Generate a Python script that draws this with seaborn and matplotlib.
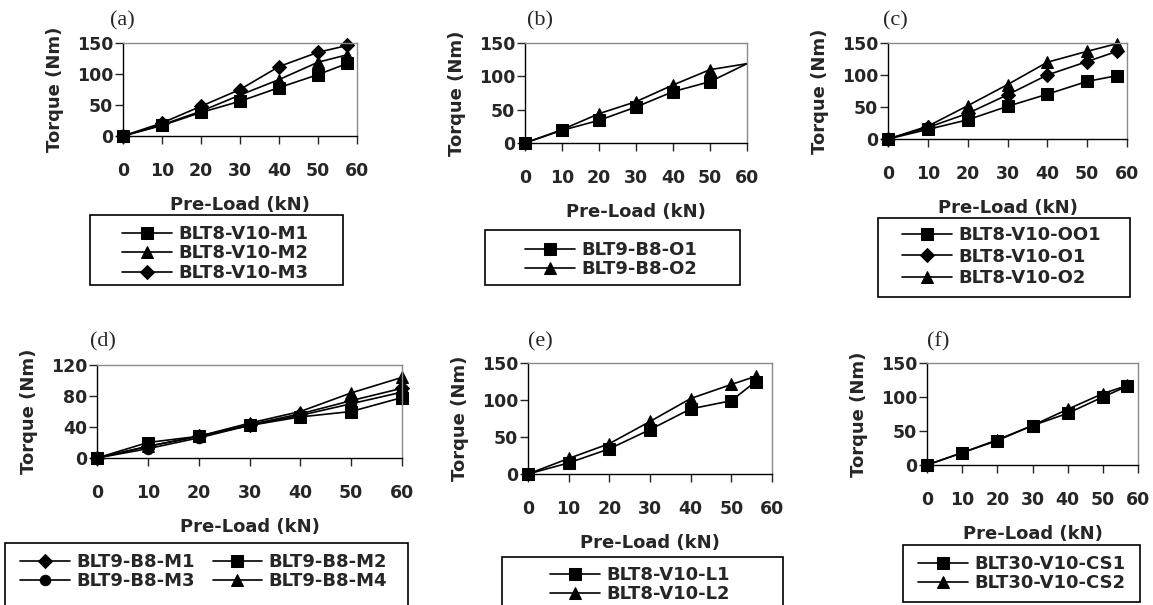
import matplotlib
matplotlib.use("Agg")
from matplotlib import pyplot as plt
from matplotlib.patches import Rectangle
import seaborn as sns

# panel (a)
a_load = [0, 10, 20, 30, 40, 50, 57.5]
a_m1 = [0, 17, 38, 56, 78, 99, 117]
a_m2 = [0, 18, 40, 66, 91, 119, 131]
a_m3 = [0, 21, 48, 75, 112, 135, 146]

# panel (b)
b_load = [0, 10, 20, 30, 40, 50, 60]
b_o1 = [0, 19, 34, 54, 77, 92, 119]
b_o2 = [0, 20, 44, 62, 87, 110, 119]

# panel (c)
c_load = [0, 10, 20, 30, 40, 50, 57.5]
c_oo1 = [0, 15, 30, 51, 70, 90, 99]
c_o1 = [0, 18, 40, 69, 100, 121, 137]
c_o2 = [0, 20, 52, 85, 120, 137, 149]

# panel (d)
d_load = [0, 10, 20, 30, 40, 50, 60]
d_m1 = [0, 15, 28, 43, 57, 74, 90]
d_m2 = [0, 20, 28, 42, 53, 60, 78]
d_m3 = [0, 12, 26, 42, 55, 70, 85]
d_m4 = [0, 15, 28, 45, 60, 84, 104]

# panel (e)
e_load = [0, 10, 20, 30, 40, 50, 56]
e_l1 = [0, 15, 34, 60, 88, 99, 125]
e_l2 = [0, 21, 41, 71, 102, 121, 132]

# panel (f)
f_load = [0, 10, 20, 30, 40, 50, 57]
f_cs1 = [0, 18, 36, 58, 76, 100, 116]
f_cs2 = [0, 18, 37, 58, 82, 105, 117]

W, H = 1153, 605

sns.set_style("ticks")
plt.rcParams["font.family"] = ["DejaVu Sans"]
plt.rcParams["font.weight"] = "bold"

fig = plt.figure(figsize=(W / 100, H / 100), dpi=100)
fig.patch.set_facecolor("white")


def px_axes(left, top, right, bottom):
    return fig.add_axes([left / W, 1 - bottom / H, (right - left) / W, (bottom - top) / H])


def draw_panel(ax, load, series, labels, markers, ymax, yticks, msizes, markevery=None):
    for vals, lab, mk, ms in zip(series, labels, markers, msizes):
        kw = {}
        if markevery is not None:
            kw["markevery"] = markevery
        sns.lineplot(x=load, y=vals, ax=ax, color="black", marker=mk, markersize=ms,
                     markeredgecolor="black", markerfacecolor="black", linewidth=1.2,
                     label=lab, clip_on=False, legend=False, **kw)
    ax.set_xlim(0, 60)
    ax.set_ylim(0, ymax)
    ax.set_xticks(range(0, 61, 10))
    ax.set_yticks(yticks)
    for side in ["left", "bottom"]:
        ax.spines[side].set_color("black")
        ax.spines[side].set_linewidth(1.0)
    for side in ["top", "right"]:
        ax.spines[side].set_color("#8a8a8a")
        ax.spines[side].set_linewidth(1.0)
    ax.tick_params(axis="x", direction="out", length=6, width=1, pad=13, labelsize=12.5)
    ax.tick_params(axis="y", direction="out", length=6, width=1, pad=1, labelsize=12.5)
    for t in ax.get_xticklabels() + ax.get_yticklabels():
        t.set_fontweight("bold")
    ax.set_xlabel("Pre-Load (kN)", fontsize=13, fontweight="bold", labelpad=11)
    ax.set_ylabel("Torque (Nm)", fontsize=13, fontweight="bold", labelpad=9)
    ax.grid(False)


def frame_legend(ax, order, handle_x, row_top, box, ncol=1, spacing=0.08, colsp=1.0):
    handles, labels = ax.get_legend_handles_labels()
    handles = [handles[i] for i in order]
    labels = [labels[i] for i in order]
    fig.legend(handles, labels, loc="upper left",
               bbox_to_anchor=(handle_x / W, 1 - row_top / H),
               frameon=False, ncol=ncol, borderpad=0, borderaxespad=0,
               labelspacing=spacing, columnspacing=colsp,
               handlelength=2.75, handletextpad=0.35,
               prop={"size": 13, "weight": "bold"})
    x0, y0, x1, y1 = box
    fig.add_artist(Rectangle((x0 / W, 1 - y1 / H), (x1 - x0) / W, (y1 - y0) / H,
                             transform=fig.transFigure, fill=False,
                             edgecolor="black", linewidth=1.2))


def tag(text, x, y):
    fig.text(x / W, 1 - y / H, text, ha="center", va="center", fontsize=16,
             family=["Liberation Serif", "DejaVu Serif"], fontweight="normal")


# (a)
ax_a = px_axes(123, 43, 357, 136)
draw_panel(ax_a, a_load, [a_m1, a_m2, a_m3], ["BLT8-V10-M1", "BLT8-V10-M2", "BLT8-V10-M3"],
           ["s", "^", "D"], 150, [0, 50, 100, 150], [8.5, 8.5, 7])
frame_legend(ax_a, [0, 1, 2], 122, 225, (90, 215, 343, 285))
tag("(a)", 122, 21)

# (b)
ax_b = px_axes(525, 43, 747, 143)
draw_panel(ax_b, b_load, [b_o1, b_o2], ["BLT9-B8-O1", "BLT9-B8-O2"],
           ["s", "^"], 150, [0, 50, 100, 150], [8.5, 8.5], markevery=list(range(6)))
frame_legend(ax_b, [0, 1], 525, 241, (485, 230, 740, 285))
tag("(b)", 540, 21)

# (c)
ax_c = px_axes(888, 43, 1127, 139)
draw_panel(ax_c, c_load, [c_oo1, c_o1, c_o2], ["BLT8-V10-OO1", "BLT8-V10-O1", "BLT8-V10-O2"],
           ["s", "D", "^"], 150, [0, 50, 100, 150], [8.5, 7, 8.5])
frame_legend(ax_c, [0, 1, 2], 902, 226, (878, 218, 1130, 297), spacing=0.2)
tag("(c)", 895, 21)

# (d)
ax_d = px_axes(97, 365, 402, 458)
draw_panel(ax_d, d_load, [d_m1, d_m2, d_m3, d_m4],
           ["BLT9-B8-M1", "BLT9-B8-M2", "BLT9-B8-M3", "BLT9-B8-M4"],
           ["D", "s", "o", "^"], 120, [0, 40, 80, 120], [7, 8.5, 7.5, 8.5])
frame_legend(ax_d, [0, 2, 1, 3], 20, 553, (5, 543, 408, 640), ncol=2, colsp=1.0)
tag("(d)", 103, 342)

# (e)
ax_e = px_axes(528, 363, 772, 474)
draw_panel(ax_e, e_load, [e_l1, e_l2], ["BLT8-V10-L1", "BLT8-V10-L2"],
           ["s", "^"], 150, [0, 50, 100, 150], [8.5, 8.5])
frame_legend(ax_e, [0, 1], 550, 566, (502, 557, 783, 640))
tag("(e)", 540, 342)

# (f)
ax_f = px_axes(927, 363, 1138, 465)
draw_panel(ax_f, f_load, [f_cs1, f_cs2], ["BLT30-V10-CS1", "BLT30-V10-CS2"],
           ["s", "^"], 150, [0, 50, 100, 150], [8.5, 8.5])
frame_legend(ax_f, [0, 1], 918, 555, (903, 545, 1140, 602))
tag("(f)", 938, 342)

fig.savefig("out.png", dpi=100, facecolor="white")
